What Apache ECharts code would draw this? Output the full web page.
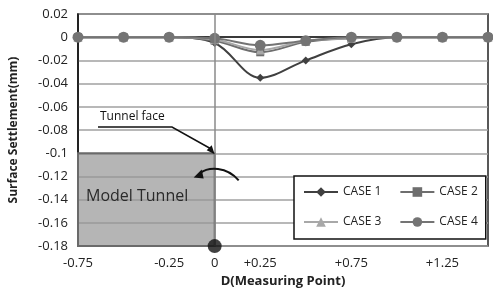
<!DOCTYPE html>
<html><head><meta charset="utf-8">
<script src="https://cdn.jsdelivr.net/npm/echarts@6/dist/echarts.min.js"></script>
<style>html,body{margin:0;padding:0;background:#fff}#c{width:493px;height:293px}</style>
</head><body><div id="c"></div>
<script>
const categories = ['-0.75','-0.5','-0.25','0','+0.25','+0.5','+0.75','+1.0','+1.25','+1.5'];
const shownLabels = ['-0.75','-0.25','0','+0.25','+0.75','+1.25'];
const case1 = [0, 0, 0, -0.005, -0.035, -0.020, -0.006, 0, 0, 0];
const case2 = [0, 0, 0, -0.003, -0.013, -0.004, -0.001, 0, 0, 0];
const case3 = [0, 0, 0, -0.002, -0.011, -0.003, -0.001, 0, 0, 0];
const case4 = [0, 0, 0, -0.001, -0.007, -0.003, 0, 0, 0, 0];
const yTicks = {min: -0.18, max: 0.02, interval: 0.02};
const tunnel = {x0: 0, x1: 3, yTop: -0.1, yBottom: -0.18};

const FONT = '"Open Sans", "Noto Sans", sans-serif';
const chart = echarts.init(document.getElementById('c'), null, {renderer: 'canvas'});
function ser(name, data, color, symbol, size, extra) {
  return Object.assign({
    name, type: 'line', data, smooth: 0.35, symbol, symbolSize: size,
    lineStyle: {color, width: 2}, itemStyle: {color}, z: 3
  }, extra || {});
}
const option = {
  animation: false,
  textStyle: {fontFamily: FONT},
  grid: {left: 74, right: 5, top: 14, bottom: 44, show: true, borderColor: '#222', borderWidth: 1.5},
  xAxis: {
    type: 'category', data: categories, boundaryGap: false,
    axisLine: {lineStyle: {color: '#111', width: 1.5}},
    axisTick: {show: false},
    axisLabel: {interval: 0, color: '#222', fontSize: 13, fontFamily: FONT, margin: 11,
      formatter: v => shownLabels.includes(v) ? v : ''},
    splitLine: {show: false},
    name: 'D(Measuring Point)', nameLocation: 'middle', nameGap: 27,
    nameTextStyle: {fontWeight: 'bold', fontSize: 13, color: '#222', fontFamily: FONT}
  },
  yAxis: {
    type: 'value', min: yTicks.min, max: yTicks.max, interval: yTicks.interval,
    axisLine: {show: true, lineStyle: {color: '#111', width: 1.5}},
    axisTick: {show: false},
    axisLabel: {color: '#222', fontSize: 13, fontFamily: FONT, margin: 10,
      formatter: v => { const r = Math.round(v * 100) / 100; return r === 0 ? '0' : String(r); }},
    splitLine: {lineStyle: {color: '#a0a0a0', width: 1.5}},
    name: 'Surface Settlement(mm)', nameLocation: 'middle', nameGap: 58, nameRotate: 90,
    nameTextStyle: {fontWeight: 'bold', fontSize: 12, color: '#222', fontFamily: FONT}
  },
  legend: {
    left: 294, top: 176, width: 180, itemGap: 18, padding: [10, 8, 11, 9],
    borderColor: '#111', borderWidth: 1.5, backgroundColor: '#fff',
    itemWidth: 34, itemHeight: 12,
    textStyle: {fontSize: 12, color: '#222', fontFamily: FONT},
    data: ['CASE 1', 'CASE 2', 'CASE 3', 'CASE 4']
  },
  series: [
    ser('CASE 1', case1, '#404040', 'diamond', 8, {
      markArea: {silent: true, z: 1,
        itemStyle: {color: 'rgba(150,150,150,0.7)', borderColor: '#6a6a6a', borderWidth: 2},
        data: [[{xAxis: tunnel.x0, yAxis: tunnel.yTop}, {xAxis: tunnel.x1, yAxis: tunnel.yBottom}]]},
      markLine: {silent: true, symbol: 'none', label: {show: false},
        lineStyle: {color: '#8a8a8a', width: 1.5, type: 'solid'},
        data: [{xAxis: tunnel.x1}]}
    }),
    ser('CASE 2', case2, '#6e6e6e', 'rect', 8),
    ser('CASE 3', case3, '#a8a8a8', 'triangle', 9),
    ser('CASE 4', case4, '#747474', 'circle', 11),
    {name: 'origin', type: 'scatter', data: [[tunnel.x1, tunnel.yBottom]], symbolSize: 14,
      itemStyle: {color: '#111'}, silent: true, z: 5}
  ]
};
chart.setOption(option);

function px(x, y) { return chart.convertToPixel({gridIndex: 0}, [x, y]); }
const tl = px(tunnel.x0, -0.14);
const tf = px(tunnel.x1, tunnel.yTop);
const c = px(tunnel.x1, -0.12);
chart.setOption({graphic: [
  {type: 'text', x: tl[0] + 8, y: tl[1] - 11, z: 10,
    style: {text: 'Model Tunnel', fill: '#2a2a2a', font: '16px ' + FONT}},
  {type: 'text', x: 100, y: 111, z: 10,
    style: {text: 'Tunnel face', fill: '#111', font: '12px ' + FONT}},
  {type: 'polyline', z: 10, shape: {points: [[98, 127], [172, 127], [tf[0] - 3, tf[1] - 4]]},
    style: {stroke: '#111', lineWidth: 1.5, fill: null}},
  {type: 'polygon', z: 10, shape: {points: [[tf[0], tf[1] + 1], [tf[0] - 8, tf[1] - 3], [tf[0] - 3, tf[1] - 8]]},
    style: {fill: '#111'}},
  {type: 'bezierCurve', z: 10, shape: {x1: c[0] + 24, y1: c[1] + 4, cpx1: c[0] + 12, cpy1: c[1] - 10,
    cpx2: c[0] - 6, cpy2: c[1] - 10, x2: c[0] - 15, y2: c[1] - 3},
    style: {stroke: '#111', lineWidth: 2, fill: null}},
  {type: 'polygon', z: 10, shape: {points: [[c[0] - 21, c[1] + 1], [c[0] - 13, c[1] - 7], [c[0] - 11, c[1] + 2]]},
    style: {fill: '#111'}}
]});
</script></body></html>
